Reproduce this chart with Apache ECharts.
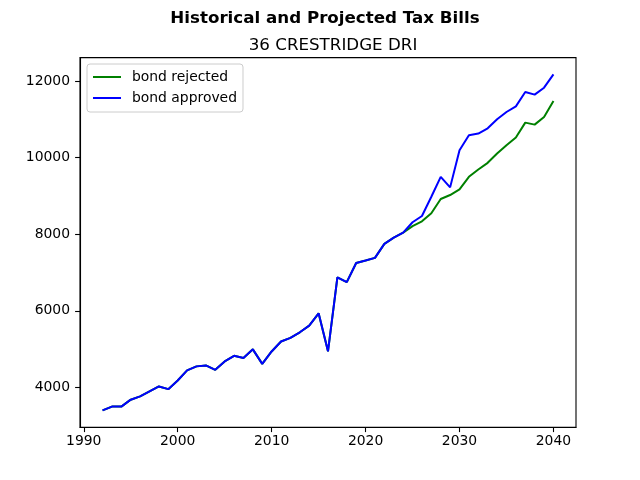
<!DOCTYPE html>
<html lang="en">
<head>
    <meta charset="UTF-8">
    <script src="https://cdn.jsdelivr.net/npm/echarts@6.0.0/dist/echarts.min.js"></script>
    <title>Historical and Projected Tax Bills</title>
    <style>
        body { margin: 0; background: #fff; }
    </style>
</head>
<body>
    <div id="main" style="width: 640px;height:480px;"></div>
    <script type="text/javascript">
        // data
        const years = [];
        for (let y = 1992; y <= 2040; y++) years.push(y);

        const bondRejected = [
            3400, 3500, 3500, 3680, 3765, 3895, 4025, 3955, 4180, 4445,
            4550, 4575, 4460, 4680, 4825, 4770, 4995, 4615, 4940, 5200,
            5295, 5440, 5615, 5935, 4945, 6875, 6750, 7250, 7315, 7385,
            7750, 7915, 8045, 8215, 8340, 8548, 8922, 9026, 9174, 9502,
            9694, 9867, 10111, 10328, 10527, 10917, 10865, 11065, 11481
        ];
        const bondApproved = [
            3400, 3500, 3500, 3680, 3765, 3895, 4025, 3955, 4180, 4445,
            4550, 4575, 4460, 4680, 4825, 4770, 4995, 4615, 4940, 5200,
            5295, 5440, 5615, 5935, 4945, 6875, 6750, 7250, 7315, 7385,
            7750, 7915, 8045, 8314, 8479, 8982, 9502, 9226, 10198, 10588,
            10632, 10770, 11005, 11195, 11343, 11716, 11648, 11830, 12177
        ];
        const xTicks = [1990, 2000, 2010, 2020, 2030, 2040];
        const yTicks = [4000, 6000, 8000, 10000, 12000];

        // matplotlib-like 5% margins
        const allVals = bondRejected.concat(bondApproved);
        const yLo = Math.min(...allVals), yHi = Math.max(...allVals);
        const yPad = (yHi - yLo) * 0.05;
        const xPad = (years[years.length - 1] - years[0]) * 0.05;

        const font = 'DejaVu Sans';
        const myChart = echarts.init(document.getElementById('main'));

        const toPairs = (vals) => vals.map((v, i) => [years[i], v]);

        const options = {
            animation: false,
            backgroundColor: '#ffffff',
            title: [
                {
                    text: 'Historical and Projected Tax Bills',
                    left: 320, top: 5, textAlign: 'center',
                    textStyle: { fontFamily: font, fontSize: 16.7, fontWeight: 'bold', color: '#000' }
                },
                {
                    text: '36 CRESTRIDGE DRI',
                    left: 328, top: 32, textAlign: 'center',
                    textStyle: { fontFamily: font, fontSize: 16.7, fontWeight: 'normal', color: '#000' }
                }
            ],
            legend: {
                orient: 'vertical',
                left: 87, top: 64,
                padding: [6, 6, 7, 5],
                itemWidth: 28, itemHeight: 14, itemGap: 7,
                backgroundColor: 'rgba(255,255,255,0.8)',
                borderColor: '#cccccc', borderWidth: 1, borderRadius: 3,
                itemStyle: { opacity: 0 },
                lineStyle: { width: 2 },
                textStyle: { fontFamily: font, fontSize: 13.9, color: '#000', padding: [0, 0, 0, 6] },
                data: ['bond rejected', 'bond approved']
            },
            grid: {
                left: 80, right: 64, top: 57.6, bottom: 52.8,
                show: true, borderColor: '#000', borderWidth: 1.1,
                containLabel: false
            },
            xAxis: {
                type: 'value',
                min: years[0] - xPad,
                max: years[years.length - 1] + xPad,
                splitLine: { show: false },
                axisLine: { show: true, onZero: false, lineStyle: { color: '#000', width: 1.1 } },
                axisTick: { show: true, length: 4.9, customValues: xTicks, lineStyle: { color: '#000', width: 1.1 } },
                axisLabel: {
                    customValues: xTicks, margin: 7, fontFamily: font, fontSize: 13.9, color: '#000',
                    formatter: (v) => String(v)
                }
            },
            yAxis: {
                type: 'value',
                min: yLo - yPad,
                max: yHi + yPad,
                splitLine: { show: false },
                axisLine: { show: true, onZero: false, lineStyle: { color: '#000', width: 1.1 } },
                axisTick: { show: true, length: 4.9, customValues: yTicks, lineStyle: { color: '#000', width: 1.1 } },
                axisLabel: {
                    customValues: yTicks, margin: 10, fontFamily: font, fontSize: 13.9, color: '#000',
                    formatter: (v) => String(v)
                }
            },
            series: [
                {
                    name: 'bond rejected',
                    type: 'line',
                    symbol: 'none',
                    color: '#008000',
                    lineStyle: { width: 2, color: '#008000' },
                    data: toPairs(bondRejected)
                },
                {
                    name: 'bond approved',
                    type: 'line',
                    symbol: 'none',
                    color: '#0000ff',
                    lineStyle: { width: 2, color: '#0000ff' },
                    data: toPairs(bondApproved)
                }
            ]
        };
        myChart.setOption(options);
    </script>
</body>
</html>
